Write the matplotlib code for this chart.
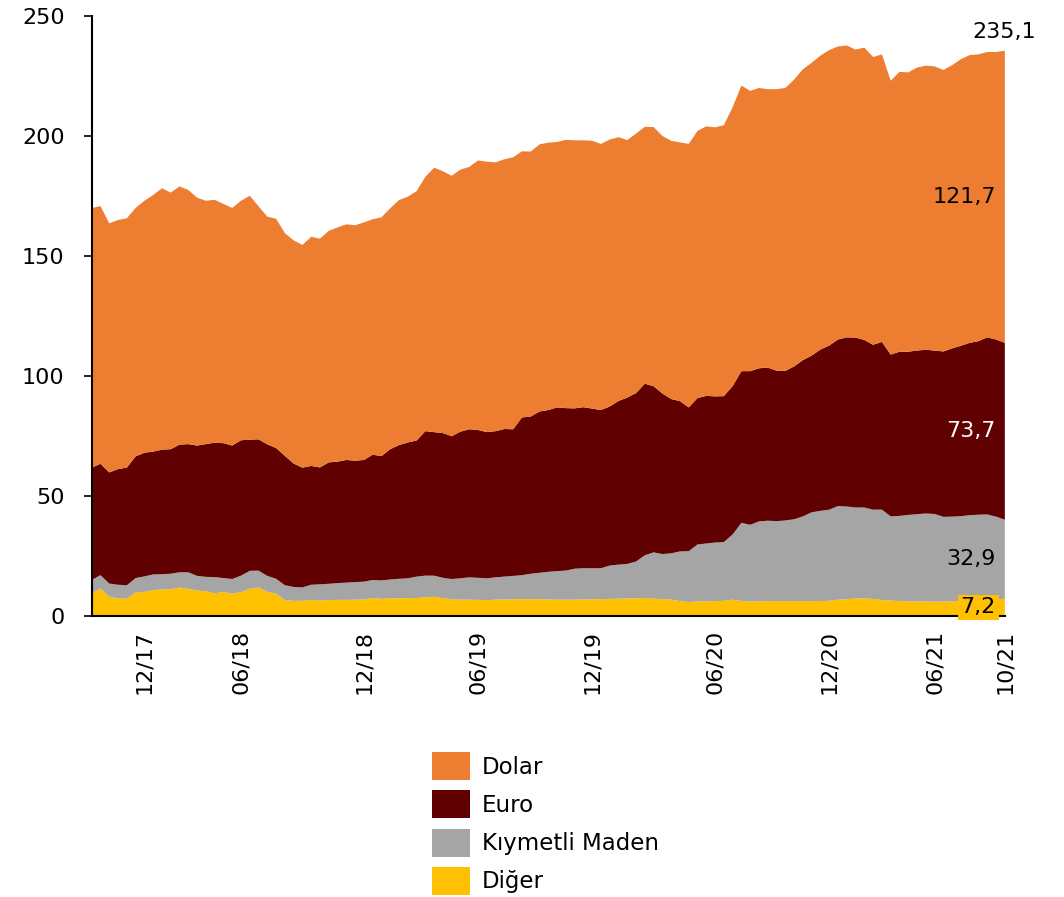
import matplotlib.pyplot as plt
import numpy as np

plt.rcParams['font.family'] = ['DejaVu Sans']

# Yabancı para mevduatı, milyar $ (iki haftalık gözlemler, 09/17 - 10/21)
dolar = [
    108.1, 107.4, 103.8, 103.8, 103.9, 103.5, 105.0, 106.9, 108.9, 106.9,
    107.6, 105.9, 103.3, 101.4, 101.2, 99.7, 99.0, 99.8, 101.6, 97.1,
    94.9, 95.5, 92.8, 93.0, 92.8, 95.5, 95.3, 96.5, 97.6, 98.2,
    98.1, 99.0, 98.1, 99.5, 100.4, 102.1, 102.4, 103.9, 106.0, 110.2,
    109.1, 108.5, 109.2, 109.3, 112.3, 112.7, 112.0, 112.4, 113.3, 110.9,
    110.4, 111.3, 111.4, 110.6, 111.8, 111.7, 111.2, 111.6, 110.9, 111.2,
    109.9, 107.3, 108.1, 107.0, 108.0, 107.3, 107.6, 107.8, 109.8, 111.3,
    112.3, 112.1, 112.9, 116.2, 119.0, 116.8, 116.8, 116.0, 117.3, 117.9,
    119.5, 121.2, 122.0, 122.5, 123.1, 122.1, 121.6, 120.0, 121.8, 119.9,
    119.8, 114.1, 116.6, 116.4, 117.9, 118.4, 118.4, 117.3, 118.0, 119.4,
    119.9, 119.5, 118.9, 119.8, 121.7]
euro = [
    46.8, 46.4, 46.3, 48.2, 49.0, 50.7, 51.5, 51.2, 51.9, 51.9,
    53.2, 53.4, 54.3, 55.3, 56.0, 56.2, 55.6, 56.4, 54.7, 54.7,
    54.8, 54.5, 53.9, 51.4, 49.9, 49.5, 48.7, 50.6, 50.6, 51.1,
    50.6, 50.7, 52.2, 51.8, 54.3, 55.7, 56.6, 56.7, 60.2, 59.8,
    60.3, 59.5, 61.1, 61.7, 61.6, 60.9, 60.9, 61.5, 61.1, 65.7,
    65.5, 67.2, 67.4, 68.2, 67.7, 66.8, 67.1, 66.5, 65.9, 66.3,
    68.2, 69.3, 70.2, 71.5, 69.2, 66.9, 64.3, 62.6, 59.9, 61.0,
    61.5, 60.9, 60.8, 61.8, 63.2, 64.0, 63.8, 63.8, 62.7, 62.3,
    63.7, 65.1, 65.3, 67.2, 68.4, 69.4, 70.5, 70.8, 69.8, 68.7,
    69.9, 67.4, 68.4, 68.0, 68.2, 68.2, 68.1, 68.9, 70.1, 71.0,
    71.8, 72.3, 73.8, 73.8, 73.7]
kiymetli = [
    5.6, 5.6, 5.5, 5.7, 5.6, 6.0, 6.5, 6.5, 6.4, 6.4,
    6.4, 6.9, 6.1, 6.0, 6.8, 5.8, 6.1, 6.9, 7.5, 7.1,
    6.6, 6.2, 6.2, 5.8, 5.6, 6.3, 6.8, 6.8, 7.0, 7.2,
    7.3, 7.4, 7.5, 7.7, 7.8, 8.1, 8.3, 8.9, 9.0, 8.8,
    8.5, 8.4, 8.9, 9.3, 9.2, 9.1, 9.3, 9.5, 9.7, 10.0,
    10.6, 11.0, 11.5, 11.9, 12.1, 12.9, 13.0, 12.9, 12.9, 13.9,
    14.2, 14.4, 15.3, 17.8, 19.3, 18.8, 19.3, 20.7, 21.2, 23.7,
    24.1, 24.4, 24.5, 27.2, 32.5, 32.0, 33.3, 33.5, 33.3, 33.6,
    34.1, 35.3, 37.0, 37.6, 38.0, 39.0, 38.6, 37.9, 37.9, 37.2,
    37.7, 35.1, 35.5, 36.0, 36.3, 36.7, 36.5, 35.3, 35.3, 35.4,
    35.7, 35.8, 35.7, 34.5, 32.9]
diger = [
    9.4, 11.4, 8.0, 7.3, 7.2, 9.8, 10.0, 10.8, 11.0, 11.2,
    11.8, 11.3, 10.6, 10.3, 9.4, 10.0, 9.3, 9.9, 11.3, 11.8,
    10.1, 9.3, 6.6, 6.3, 6.3, 6.7, 6.4, 6.6, 6.7, 6.7,
    6.8, 6.9, 7.5, 7.1, 7.4, 7.4, 7.4, 7.5, 7.8, 8.0,
    7.4, 7.0, 6.8, 6.8, 6.7, 6.6, 6.8, 6.9, 7.0, 7.0,
    7.0, 7.0, 6.9, 6.8, 6.8, 6.8, 6.9, 7.0, 7.0, 7.1,
    7.2, 7.3, 7.4, 7.5, 7.2, 7.0, 6.8, 6.2, 5.8, 6.1,
    6.1, 6.2, 6.3, 6.8, 6.3, 6.0, 6.1, 6.2, 6.2, 6.2,
    6.2, 6.2, 6.2, 6.2, 6.3, 6.8, 7.0, 7.3, 7.3, 7.1,
    6.6, 6.4, 6.2, 6.1, 6.1, 6.0, 6.0, 6.0, 6.1, 6.2,
    6.3, 6.4, 6.6, 6.9, 7.2]

toplam_etiket = '235,1'   # grafikte yazan toplam
tick_idx = [6, 17, 31, 44, 57, 71, 84, 96, 104]
tick_labels = ['12/17', '06/18', '12/18', '06/19', '12/19', '06/20', '12/20', '06/21', '10/21']

names = ['Diğer', 'Kıymetli Maden', 'Euro', 'Dolar']
colors = ['#FFC000', '#A5A5A5', '#600000', '#ED7D31']

x = np.arange(len(dolar))

fig = plt.figure(figsize=(10.64, 8.97), dpi=100)
ax = fig.add_axes([0.0862, 0.3133, 0.8582, 0.6689])
ax.stackplot(x, diger, kiymetli, euro, dolar, colors=colors, labels=names, linewidth=0)

ax.set_xlim(0, x[-1])
ax.set_ylim(0, 250)
ax.set_yticks(range(0, 251, 50))
ax.set_xticks(tick_idx, tick_labels, rotation=90)
ax.tick_params(axis='y', length=5.5, width=1.2, pad=14, labelsize=16)
ax.tick_params(axis='x', length=0, pad=10, labelsize=16)
for s in ['top', 'right']:
    ax.spines[s].set_visible(False)
for s in ['left', 'bottom']:
    ax.spines[s].set_linewidth(1.5)

# son değer etiketleri
series = [diger, kiymetli, euro, dolar]
txt_colors = ['black', 'black', 'white', 'black']
alt = 0
for i, s in enumerate(series):
    v = s[-1]
    kw = {}
    if i == 0:
        kw['bbox'] = dict(facecolor='#FFC000', edgecolor='none', pad=2)
    ax.annotate(f'{v:.1f}'.replace('.', ','), xy=(x[-1], alt + v / 2),
                xytext=(-9, 0), textcoords='offset pixels',
                ha='right', va='center', fontsize=16, color=txt_colors[i], **kw)
    alt += v
ax.annotate(toplam_etiket, xy=(x[-1], alt), xytext=(-32, 19), textcoords='offset pixels',
            ha='left', va='center', fontsize=16)

h, l = ax.get_legend_handles_labels()
fig.legend(h[::-1], l[::-1], loc='upper left', bbox_to_anchor=(432 / 1064, 1 - 752 / 897),
           frameon=False, fontsize=16.5, handlelength=1.66, handleheight=1.5,
           handletextpad=0.5, labelspacing=0.45, borderpad=0, borderaxespad=0)

plt.savefig('out.png', dpi=100)
